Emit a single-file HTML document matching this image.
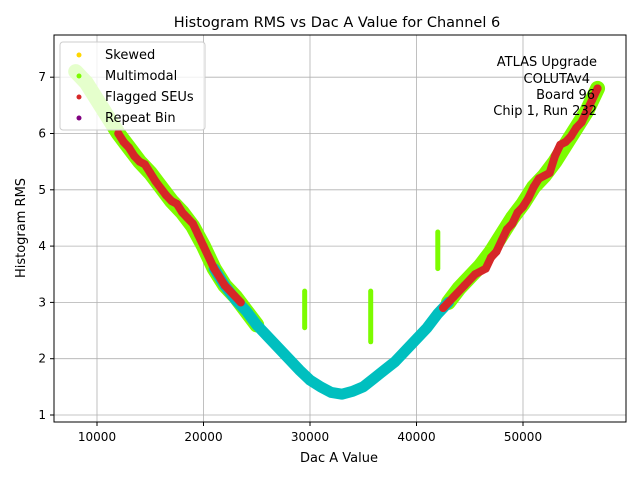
<!DOCTYPE html>
<html><head><meta charset="utf-8"><style>
body{margin:0;background:#fff;font-family:"Liberation Sans","DejaVu Sans",sans-serif}
</style></head><body>
<svg id="chart" width="640" height="480" viewBox="0 0 640 480" xmlns="http://www.w3.org/2000/svg" font-family="DejaVu Sans, Liberation Sans, sans-serif">
<rect width="640" height="480" fill="#fff"/>
<text x="337" y="27" font-size="14.5" text-anchor="middle">Histogram RMS vs Dac A Value for Channel 6</text>
<g id="grid"></g>
<g id="marks"></g>
<rect x="54" y="35" width="572" height="387" fill="none" stroke="#000" stroke-width="1"/>
<g id="ticks" font-size="12"></g>
<text x="339" y="462" font-size="13" text-anchor="middle">Dac A Value</text>
<text transform="translate(25,228) rotate(-90)" font-size="13" text-anchor="middle">Histogram RMS</text>
<g font-size="13" text-anchor="end">
<text x="597" y="66">ATLAS Upgrade</text>
<text x="590" y="83">COLUTAv4</text>
<text x="595" y="99">Board 96</text>
<text x="597" y="115">Chip 1, Run 232</text>
</g>
<g>
<rect x="60" y="42" width="145" height="88" rx="3" fill="#fff" fill-opacity="0.8" stroke="#ccc"/>
<circle cx="79" cy="55" r="2.5" fill="#ffd700"/><text x="105" y="59" font-size="13">Skewed</text>
<circle cx="79" cy="76" r="2.5" fill="#7cfc00"/><text x="105" y="80" font-size="13">Multimodal</text>
<circle cx="79" cy="97" r="2.5" fill="#d62728"/><text x="105" y="101" font-size="13">Flagged SEUs</text>
<circle cx="79" cy="118" r="2.5" fill="#800080"/><text x="105" y="122" font-size="13">Repeat Bin</text>
</g>
</svg>
<script>
const xTicks=[10000,20000,30000,40000,50000];
const yTicks=[1,2,3,4,5,6,7];
const greenX=[8000,9000,10000,11000,12000,13000,14000,15000,16000,17000,18000,19000,20000,21000,22000,23000,24000,25000,43000,44000,45000,46000,47000,48000,49000,50000,51000,52000,53000,54000,55000,56000,57000];
const greenY=[7.1,6.9,6.6,6.3,6.0,5.75,5.5,5.3,5.05,4.8,4.6,4.35,4.0,3.6,3.3,3.1,2.85,2.6,3.0,3.25,3.45,3.65,3.9,4.2,4.5,4.75,5.05,5.25,5.5,5.8,6.1,6.4,6.8];
const cyanX=[21000,22000,23000,24000,25000,26000,27000,28000,29000,30000,31000,32000,33000,34000,35000,36000,37000,38000,39000,40000,41000,42000,43000];
const cyanY=[3.6,3.3,3.05,2.85,2.6,2.4,2.2,2.0,1.8,1.62,1.5,1.4,1.37,1.42,1.5,1.65,1.8,1.95,2.15,2.35,2.55,2.8,3.0];
const redX=[12000,12500,13000,13500,14000,14500,15000,15500,16500,17000,17500,18000,18500,19000,19500,20000,21000,22000,23500,42500,43500,44500,45500,46500,47000,47500,48000,48500,49000,49500,50000,50500,51000,51500,52000,52500,53000,53500,54000,54500,55000,55500,56000,56500,57000];
const redY=[6.0,5.85,5.75,5.6,5.5,5.45,5.3,5.15,4.9,4.8,4.75,4.6,4.5,4.4,4.2,4.0,3.6,3.3,3.0,2.9,3.1,3.3,3.5,3.6,3.8,3.9,4.1,4.3,4.4,4.6,4.7,4.85,5.05,5.2,5.25,5.3,5.6,5.8,5.85,5.95,6.1,6.2,6.4,6.6,6.8];
const outX=[29500,35700,42000];
const outLow=[2.55,2.3,3.6];
const outHigh=[3.2,3.2,4.25];
const NS="http://www.w3.org/2000/svg";
const sx=v=>97+(v-10000)*0.01065;
const sy=v=>415-(v-1)*56.3;
function mk(t,a,p){const e=document.createElementNS(NS,t);for(const k in a)e.setAttribute(k,a[k]);p.appendChild(e);return e;}
const grid=document.getElementById('grid'),marks=document.getElementById('marks'),ticks=document.getElementById('ticks');
xTicks.forEach(v=>{const x=sx(v);
const g=mk('line',{x1:x,x2:x,y1:35,y2:422,stroke:'#b0b0b0','stroke-width':0.8},grid);


mk('line',{x1:x,x2:x,y1:422,y2:426,stroke:'#000'},ticks);
const t=mk('text',{x:x,y:441,'text-anchor':'middle'},ticks);t.textContent=v;

});
yTicks.forEach(v=>{const y=sy(v);
const g=mk('line',{x1:54,x2:626,y1:y,y2:y,stroke:'#b0b0b0','stroke-width':0.8},grid);


mk('line',{x1:50,x2:54,y1:y,y2:y,stroke:'#000'},ticks);
const t=mk('text',{x:46,y:y+4,'text-anchor':'end'},ticks);t.textContent=v;

});
function band(X,Y,col,w,name){
const pts=X.map((x,i)=>sx(x)+','+sy(Y[i])).join(' ');
const l=mk('polyline',{points:pts,fill:'none',stroke:col,'stroke-width':w,'stroke-linejoin':'round','stroke-linecap':'round'},marks);

}
function dots(X,Y,col,r,name){X.forEach((x,i)=>{
const c=mk('circle',{cx:sx(x),cy:sy(Y[i]),r:r,fill:col},marks);

});}
band(greenX.slice(0,18),greenY.slice(0,18),'#7cfc00',15,'multimodal-band-left');
band(greenX.slice(18),greenY.slice(18),'#7cfc00',15,'multimodal-band-right');
band(cyanX,cyanY,'#00bfbf',11,'data-band');
outX.forEach((x,i)=>{
const l=mk('line',{x1:sx(x),x2:sx(x),y1:sy(outLow[i]),y2:sy(outHigh[i]),stroke:'#7cfc00','stroke-width':5,'stroke-linecap':'round'},marks);

});
band(redX.slice(0,19),redY.slice(0,19),'#d62728',8,'flagged-band-left');
band(redX.slice(19),redY.slice(19),'#d62728',8,'flagged-band-right');
dots(redX,redY,'#d62728',4,'flagged-seu-point');
</script>
</body></html>
